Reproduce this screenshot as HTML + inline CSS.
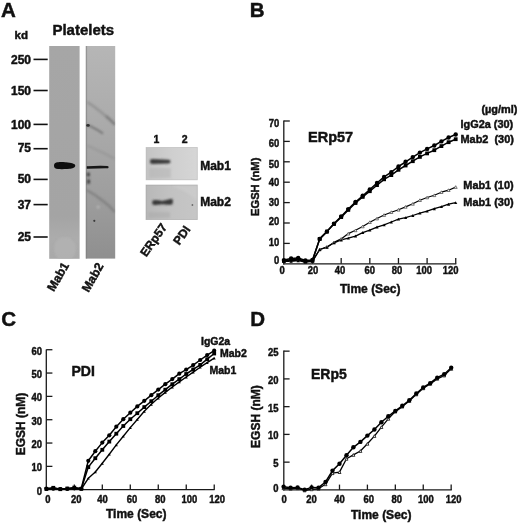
<!DOCTYPE html>
<html><head><meta charset="utf-8"><style>
html,body{margin:0;padding:0;background:#fff;}
svg{display:block;filter:blur(0.3px);}
text{font-family:"Liberation Sans",sans-serif;font-weight:bold;fill:#111;stroke:#111;stroke-width:0.45px;}
</style></head><body>
<svg width="520" height="523" viewBox="0 0 520 523">
<rect width="520" height="523" fill="#fff"/>
<text x="1.00" y="17.00" font-size="20.5" text-anchor="start" >A</text>
<text x="14.50" y="39.00" font-size="11.5" text-anchor="start" >kd</text>
<text x="52.40" y="34.60" font-size="15" text-anchor="start" >Platelets</text>

<defs>
 <linearGradient id="l1" x1="0" y1="0" x2="0" y2="1">
  <stop offset="0" stop-color="#a6a6a6"/>
  <stop offset="0.8" stop-color="#a4a4a4"/>
  <stop offset="0.9" stop-color="#acacac"/>
  <stop offset="1" stop-color="#a9a9a9"/>
 </linearGradient>
 <linearGradient id="l2" x1="0" y1="0" x2="0" y2="1">
  <stop offset="0" stop-color="#b6b6b6"/>
  <stop offset="0.3" stop-color="#adadad"/>
  <stop offset="0.7" stop-color="#9e9e9e"/>
  <stop offset="1" stop-color="#8f8f8f"/>
 </linearGradient>
 <linearGradient id="b1" x1="0" y1="0" x2="1" y2="0">
  <stop offset="0" stop-color="#c4c4c4"/>
  <stop offset="0.5" stop-color="#cfcfcf"/>
  <stop offset="1" stop-color="#d6d6d6"/>
 </linearGradient>
 <linearGradient id="b2" x1="0" y1="0" x2="1" y2="0">
  <stop offset="0" stop-color="#b8b8b8"/>
  <stop offset="0.5" stop-color="#c2c2c2"/>
  <stop offset="1" stop-color="#c6c6c6"/>
 </linearGradient>
 <clipPath id="cl1"><rect x="49.2" y="46" width="30.4" height="212.8"/></clipPath>
 <clipPath id="cl2"><rect x="85.8" y="46" width="29.4" height="212.6"/></clipPath>
 <filter id="blur1" x="-100%" y="-100%" width="300%" height="300%"><feGaussianBlur stdDeviation="0.8"/></filter>
 <filter id="blur0" x="-100%" y="-100%" width="300%" height="300%"><feGaussianBlur stdDeviation="0.5"/></filter>
 <filter id="blurh" x="-100%" y="-100%" width="300%" height="300%"><feGaussianBlur stdDeviation="0.8"/></filter>
 <filter id="blur2" x="-100%" y="-100%" width="300%" height="300%"><feGaussianBlur stdDeviation="1.2"/></filter>
</defs>

<rect x="49.2" y="46" width="30.4" height="212.8" fill="url(#l1)"/>
<g clip-path="url(#cl1)"><ellipse cx="65" cy="249" rx="11" ry="12" fill="#b4b4b4" opacity="0.7" filter="url(#blur2)"/></g>
<rect x="85.8" y="46" width="29.4" height="212.6" fill="url(#l2)"/>
<rect x="85.8" y="46" width="1.3" height="212.6" fill="#7a7a7a" opacity="0.55"/>
<g clip-path="url(#cl2)">
<path d="M87.2 102 Q100 110 114.8 124.5" stroke="#8a8a8a" stroke-width="2.2" fill="none" opacity="0.75" filter="url(#blur1)"/>
<path d="M106 116 Q111 120 114.8 124.5" stroke="#6a6a6a" stroke-width="1.6" fill="none" opacity="0.8" filter="url(#blur1)"/>
<path d="M86.5 125.3 Q90 125.5 92 127 Q98 130 103 133.5" stroke="#606060" stroke-width="1.6" fill="none" opacity="0.8" filter="url(#blur1)"/>
<ellipse cx="88" cy="125.4" rx="1.8" ry="1.3" fill="#303030"/>
<path d="M87.2 145.5 Q100 151 114.8 158.8" stroke="#8e8e8e" stroke-width="1.6" fill="none" opacity="0.6" filter="url(#blur1)"/>
<path d="M86.5 190 Q96 195 103 201 Q110 206 114.8 212" stroke="#7c7c7c" stroke-width="2.4" fill="none" opacity="0.8" filter="url(#blur1)"/>
<circle cx="98.2" cy="207" r="1.6" fill="#c0c0c0" opacity="0.7" filter="url(#blur1)"/>
<circle cx="94.3" cy="220.8" r="1.1" fill="#3a3a3a"/>
<ellipse cx="88.4" cy="174.5" rx="1.6" ry="2.2" fill="#404040" filter="url(#blur1)"/>
<ellipse cx="88.6" cy="181.5" rx="1.5" ry="2.6" fill="#3a3a3a" filter="url(#blur1)"/>
</g>
<path d="M54.0 165.6 C54.0 162.6 57 162.1 61 162.1 C67 162.2 73 162.9 74.8 164.6 C75.8 165.7 75.3 167.6 72.5 168.3 C68 169.3 61 169.3 58 169.1 C55 168.9 54.0 167.8 54.0 165.6 Z" fill="#0a0a0a" filter="url(#blur0)"/>
<path d="M86.8 166.3 Q98 165.6 107.5 166.0 Q108.8 166.5 108.6 167.4 Q108.2 168.4 107 168.3 Q98 168.5 86.8 168.8 Z" fill="#151515" filter="url(#blur0)"/>
<line x1="33.50" y1="59.40" x2="47.70" y2="59.40" stroke="#111" stroke-width="1.6"/>
<text x="31.00" y="63.50" font-size="12" text-anchor="end" >250</text>
<line x1="33.50" y1="90.50" x2="47.70" y2="90.50" stroke="#111" stroke-width="1.6"/>
<text x="31.00" y="95.40" font-size="12" text-anchor="end" >150</text>
<line x1="33.50" y1="124.40" x2="47.70" y2="124.40" stroke="#111" stroke-width="1.6"/>
<text x="31.00" y="128.70" font-size="12" text-anchor="end" >100</text>
<line x1="33.50" y1="148.70" x2="47.70" y2="148.70" stroke="#111" stroke-width="1.6"/>
<text x="31.00" y="151.70" font-size="12" text-anchor="end" >75</text>
<line x1="33.50" y1="179.40" x2="47.70" y2="179.40" stroke="#111" stroke-width="1.6"/>
<text x="31.00" y="183.30" font-size="12" text-anchor="end" >50</text>
<line x1="33.50" y1="204.60" x2="47.70" y2="204.60" stroke="#111" stroke-width="1.6"/>
<text x="31.00" y="208.60" font-size="12" text-anchor="end" >37</text>
<line x1="33.50" y1="237.00" x2="47.70" y2="237.00" stroke="#111" stroke-width="1.6"/>
<text x="31.00" y="241.00" font-size="12" text-anchor="end" >25</text>
<text x="0" y="0" font-size="12.2" text-anchor="end" transform="translate(69.40 265.30) rotate(-60)">Mab1</text>
<text x="0" y="0" font-size="12.2" text-anchor="end" transform="translate(104.00 266.00) rotate(-60)">Mab2</text>
<text x="153.60" y="143.20" font-size="10.5" text-anchor="start" >1</text>
<text x="181.80" y="143.20" font-size="10.5" text-anchor="start" >2</text>
<rect x="146.1" y="147.5" width="51.2" height="32.3" fill="url(#b1)"/>
<rect x="146.1" y="147.5" width="51.2" height="32.3" fill="none" stroke="#aaa" stroke-width="0.8" opacity="0.6"/>
<rect x="149" y="168" width="22" height="10" fill="#b0b0b0" opacity="0.45" filter="url(#blur2)"/>
<rect x="146.0" y="185" width="51.3" height="34.6" fill="url(#b2)"/>
<rect x="146.0" y="185" width="51.3" height="34.6" fill="none" stroke="#9a9a9a" stroke-width="0.8" opacity="0.6"/>
<path d="M172 186 Q185 190 197 200 L197 186 Z" fill="#d0d0d0" opacity="0.5" filter="url(#blur2)"/>
<rect x="148" y="212" width="22" height="6" fill="#a8a8a8" opacity="0.45" filter="url(#blur2)"/>
<circle cx="192.4" cy="205" r="0.9" fill="#555" opacity="0.8"/>
<path d="M149.9 161.5 Q149.9 158.9 152.2 159.0 L168.5 159.7 Q170.5 159.9 170.5 161.6 Q170.5 163.5 168.5 163.5 L152.2 163.9 Q149.9 164.0 149.9 161.5 Z" fill="#3a3a3a" filter="url(#blurh)"/>
<path d="M152.2 202.4 Q152.2 199.9 155 200.0 Q159 200.3 162 200.9 Q165 200.2 169.5 199.2 Q171.5 197.9 172.7 199.6 Q173.4 202.3 172.2 204.4 Q168 205.0 162 204.3 Q158 205.0 155 205.0 Q152.2 205.0 152.2 202.4 Z" fill="#383838" filter="url(#blurh)"/>
<text x="200.20" y="169.90" font-size="12" text-anchor="start" >Mab1</text>
<text x="200.20" y="205.60" font-size="12" text-anchor="start" >Mab2</text>
<text x="0" y="0" font-size="12" text-anchor="end" transform="translate(167.60 227.00) rotate(-55)">ERp57</text>
<text x="0" y="0" font-size="12" text-anchor="end" transform="translate(190.80 229.40) rotate(-55)">PDI</text>
<text x="249.80" y="16.60" font-size="20.5" text-anchor="start" >B</text>
<line x1="283.80" y1="120.40" x2="283.80" y2="264.40" stroke="#1a1a1a" stroke-width="1.3"/>
<line x1="283.20" y1="263.80" x2="456.30" y2="263.80" stroke="#1a1a1a" stroke-width="1.3"/>
<line x1="283.80" y1="243.40" x2="289.80" y2="243.40" stroke="#1a1a1a" stroke-width="1.3"/>
<line x1="283.80" y1="223.00" x2="289.80" y2="223.00" stroke="#1a1a1a" stroke-width="1.3"/>
<line x1="283.80" y1="202.60" x2="289.80" y2="202.60" stroke="#1a1a1a" stroke-width="1.3"/>
<line x1="283.80" y1="182.20" x2="289.80" y2="182.20" stroke="#1a1a1a" stroke-width="1.3"/>
<line x1="283.80" y1="161.80" x2="289.80" y2="161.80" stroke="#1a1a1a" stroke-width="1.3"/>
<line x1="283.80" y1="141.40" x2="289.80" y2="141.40" stroke="#1a1a1a" stroke-width="1.3"/>
<line x1="283.80" y1="121.00" x2="289.80" y2="121.00" stroke="#1a1a1a" stroke-width="1.3"/>
<text x="0" y="0" font-size="10.5" text-anchor="end" transform="translate(279.30 126.52) scale(0.9 1)" >70</text>
<text x="0" y="0" font-size="10.5" text-anchor="end" transform="translate(279.30 147.22) scale(0.9 1)" >60</text>
<text x="0" y="0" font-size="10.5" text-anchor="end" transform="translate(279.30 168.32) scale(0.9 1)" >50</text>
<text x="0" y="0" font-size="10.5" text-anchor="end" transform="translate(279.30 186.22) scale(0.9 1)" >40</text>
<text x="0" y="0" font-size="10.5" text-anchor="end" transform="translate(279.30 205.62) scale(0.9 1)" >30</text>
<text x="0" y="0" font-size="10.5" text-anchor="end" transform="translate(279.30 224.92) scale(0.9 1)" >20</text>
<text x="0" y="0" font-size="10.5" text-anchor="end" transform="translate(279.30 246.22) scale(0.9 1)" >10</text>
<text x="0" y="0" font-size="10.5" text-anchor="end" transform="translate(279.30 263.92) scale(0.9 1)" >0</text>
<line x1="312.54" y1="258.00" x2="312.54" y2="263.80" stroke="#1a1a1a" stroke-width="1.3"/>
<line x1="341.18" y1="258.00" x2="341.18" y2="263.80" stroke="#1a1a1a" stroke-width="1.3"/>
<line x1="369.82" y1="258.00" x2="369.82" y2="263.80" stroke="#1a1a1a" stroke-width="1.3"/>
<line x1="398.46" y1="258.00" x2="398.46" y2="263.80" stroke="#1a1a1a" stroke-width="1.3"/>
<line x1="427.10" y1="258.00" x2="427.10" y2="263.80" stroke="#1a1a1a" stroke-width="1.3"/>
<line x1="455.74" y1="258.00" x2="455.74" y2="263.80" stroke="#1a1a1a" stroke-width="1.3"/>
<text x="0" y="0" font-size="10.5" text-anchor="middle" transform="translate(282.10 273.60) scale(0.9 1)" >0</text>
<text x="0" y="0" font-size="10.5" text-anchor="middle" transform="translate(312.90 273.60) scale(0.9 1)" >20</text>
<text x="0" y="0" font-size="10.5" text-anchor="middle" transform="translate(340.00 273.60) scale(0.9 1)" >40</text>
<text x="0" y="0" font-size="10.5" text-anchor="middle" transform="translate(369.80 273.60) scale(0.9 1)" >60</text>
<text x="0" y="0" font-size="10.5" text-anchor="middle" transform="translate(396.90 273.60) scale(0.9 1)" >80</text>
<text x="0" y="0" font-size="10.5" text-anchor="middle" transform="translate(424.20 273.60) scale(0.9 1)" >100</text>
<text x="0" y="0" font-size="10.5" text-anchor="middle" transform="translate(450.50 273.60) scale(0.9 1)" >120</text>
<text x="340.00" y="292.70" font-size="12" text-anchor="start" >Time (Sec)</text>
<text x="0" y="0" font-size="11.2" text-anchor="middle" transform="translate(259.20 186.80) rotate(-90)">EGSH (nM)</text>
<text x="308.00" y="141.70" font-size="14.5" text-anchor="start" >ERp57</text>
<text x="0" y="0" font-size="10.5" text-anchor="start" transform="translate(481.40 113.00) scale(1.04 1)" >(µg/ml)</text>
<text x="0" y="0" font-size="10.5" text-anchor="start" transform="translate(460.50 128.10) scale(1.04 1)" xml:space="preserve">IgG2a (30)</text>
<text x="0" y="0" font-size="10.5" text-anchor="start" transform="translate(460.50 143.00) scale(1.04 1)" xml:space="preserve">Mab2  (30)</text>
<text x="0" y="0" font-size="10.5" text-anchor="start" transform="translate(463.30 188.80) scale(1.04 1)" >Mab1 (10)</text>
<text x="0" y="0" font-size="10.5" text-anchor="start" transform="translate(463.30 205.80) scale(1.04 1)" >Mab1 (30)</text>
<polyline points="283.9,260.7 291.1,260.5 298.2,260.1 305.4,260.7 312.5,260.9 319.7,249.5 326.9,246.9 334.0,242.4 341.2,238.9 348.3,233.6 355.5,230.3 362.7,226.5 369.8,222.2 377.0,218.5 384.1,215.0 391.3,212.2 398.5,209.7 405.6,206.9 412.8,203.8 419.9,200.2 427.1,197.5 434.3,195.3 441.4,192.2 448.6,190.2 455.7,187.1" fill="none" stroke="#000" stroke-width="1.2" stroke-linejoin="round"/>
<polyline points="283.9,261.4 291.1,261.4 298.2,260.7 305.4,262.0 312.5,261.4 319.7,249.5 326.9,247.3 334.0,242.8 341.2,239.9 348.3,238.1 355.5,236.1 362.7,232.6 369.8,230.1 377.0,227.1 384.1,224.8 391.3,222.0 398.5,219.1 405.6,217.7 412.8,215.5 419.9,213.2 427.1,211.2 434.3,208.7 441.4,206.7 448.6,204.2 455.7,202.6" fill="none" stroke="#000" stroke-width="1.3" stroke-linejoin="round"/>
<path d="M282.4 262.1 L285.4 262.1 L283.9 259.4 Z" fill="#fff" stroke="#555" stroke-width="0.8"/>
<path d="M289.6 261.9 L292.6 261.9 L291.1 259.2 Z" fill="#fff" stroke="#555" stroke-width="0.8"/>
<path d="M296.7 261.5 L299.7 261.5 L298.2 258.8 Z" fill="#fff" stroke="#555" stroke-width="0.8"/>
<path d="M303.9 262.1 L306.9 262.1 L305.4 259.4 Z" fill="#fff" stroke="#555" stroke-width="0.8"/>
<path d="M311.0 262.3 L314.0 262.3 L312.5 259.6 Z" fill="#fff" stroke="#555" stroke-width="0.8"/>
<path d="M318.2 250.9 L321.2 250.9 L319.7 248.2 Z" fill="#fff" stroke="#555" stroke-width="0.8"/>
<path d="M325.4 248.2 L328.4 248.2 L326.9 245.5 Z" fill="#fff" stroke="#555" stroke-width="0.8"/>
<path d="M332.5 243.7 L335.5 243.7 L334.0 241.0 Z" fill="#fff" stroke="#555" stroke-width="0.8"/>
<path d="M339.7 240.3 L342.7 240.3 L341.2 237.6 Z" fill="#fff" stroke="#555" stroke-width="0.8"/>
<path d="M346.8 235.0 L349.8 235.0 L348.3 232.3 Z" fill="#fff" stroke="#555" stroke-width="0.8"/>
<path d="M354.0 231.7 L357.0 231.7 L355.5 229.0 Z" fill="#fff" stroke="#555" stroke-width="0.8"/>
<path d="M361.2 227.8 L364.2 227.8 L362.7 225.1 Z" fill="#fff" stroke="#555" stroke-width="0.8"/>
<path d="M368.3 223.5 L371.3 223.5 L369.8 220.8 Z" fill="#fff" stroke="#555" stroke-width="0.8"/>
<path d="M375.5 219.9 L378.5 219.9 L377.0 217.2 Z" fill="#fff" stroke="#555" stroke-width="0.8"/>
<path d="M382.6 216.4 L385.6 216.4 L384.1 213.7 Z" fill="#fff" stroke="#555" stroke-width="0.8"/>
<path d="M389.8 213.5 L392.8 213.5 L391.3 210.8 Z" fill="#fff" stroke="#555" stroke-width="0.8"/>
<path d="M397.0 211.1 L400.0 211.1 L398.5 208.4 Z" fill="#fff" stroke="#555" stroke-width="0.8"/>
<path d="M404.1 208.2 L407.1 208.2 L405.6 205.5 Z" fill="#fff" stroke="#555" stroke-width="0.8"/>
<path d="M411.3 205.2 L414.3 205.2 L412.8 202.5 Z" fill="#fff" stroke="#555" stroke-width="0.8"/>
<path d="M418.4 201.5 L421.4 201.5 L419.9 198.8 Z" fill="#fff" stroke="#555" stroke-width="0.8"/>
<path d="M425.6 198.8 L428.6 198.8 L427.1 196.2 Z" fill="#fff" stroke="#555" stroke-width="0.8"/>
<path d="M432.8 196.6 L435.8 196.6 L434.3 193.9 Z" fill="#fff" stroke="#555" stroke-width="0.8"/>
<path d="M439.9 193.5 L442.9 193.5 L441.4 190.8 Z" fill="#fff" stroke="#555" stroke-width="0.8"/>
<path d="M447.1 191.5 L450.1 191.5 L448.6 188.8 Z" fill="#fff" stroke="#555" stroke-width="0.8"/>
<path d="M454.2 188.4 L457.2 188.4 L455.7 185.7 Z" fill="#fff" stroke="#555" stroke-width="0.8"/>
<path d="M282.3 262.8 L285.5 262.8 L283.9 259.9 Z" fill="#000" stroke="none" stroke-width="0"/>
<path d="M289.5 262.8 L292.7 262.8 L291.1 259.9 Z" fill="#000" stroke="none" stroke-width="0"/>
<path d="M296.6 262.2 L299.8 262.2 L298.2 259.3 Z" fill="#000" stroke="none" stroke-width="0"/>
<path d="M303.8 263.4 L307.0 263.4 L305.4 260.5 Z" fill="#000" stroke="none" stroke-width="0"/>
<path d="M310.9 262.8 L314.1 262.8 L312.5 259.9 Z" fill="#000" stroke="none" stroke-width="0"/>
<path d="M318.1 251.0 L321.3 251.0 L319.7 248.1 Z" fill="#000" stroke="none" stroke-width="0"/>
<path d="M325.3 248.7 L328.5 248.7 L326.9 245.8 Z" fill="#000" stroke="none" stroke-width="0"/>
<path d="M332.4 244.2 L335.6 244.2 L334.0 241.3 Z" fill="#000" stroke="none" stroke-width="0"/>
<path d="M339.6 241.4 L342.8 241.4 L341.2 238.5 Z" fill="#000" stroke="none" stroke-width="0"/>
<path d="M346.7 239.5 L349.9 239.5 L348.3 236.7 Z" fill="#000" stroke="none" stroke-width="0"/>
<path d="M353.9 237.5 L357.1 237.5 L355.5 234.6 Z" fill="#000" stroke="none" stroke-width="0"/>
<path d="M361.1 234.0 L364.3 234.0 L362.7 231.1 Z" fill="#000" stroke="none" stroke-width="0"/>
<path d="M368.2 231.6 L371.4 231.6 L369.8 228.7 Z" fill="#000" stroke="none" stroke-width="0"/>
<path d="M375.4 228.5 L378.6 228.5 L377.0 225.6 Z" fill="#000" stroke="none" stroke-width="0"/>
<path d="M382.5 226.3 L385.7 226.3 L384.1 223.4 Z" fill="#000" stroke="none" stroke-width="0"/>
<path d="M389.7 223.4 L392.9 223.4 L391.3 220.5 Z" fill="#000" stroke="none" stroke-width="0"/>
<path d="M396.9 220.6 L400.1 220.6 L398.5 217.7 Z" fill="#000" stroke="none" stroke-width="0"/>
<path d="M404.0 219.1 L407.2 219.1 L405.6 216.3 Z" fill="#000" stroke="none" stroke-width="0"/>
<path d="M411.2 216.9 L414.4 216.9 L412.8 214.0 Z" fill="#000" stroke="none" stroke-width="0"/>
<path d="M418.3 214.6 L421.5 214.6 L419.9 211.8 Z" fill="#000" stroke="none" stroke-width="0"/>
<path d="M425.5 212.6 L428.7 212.6 L427.1 209.7 Z" fill="#000" stroke="none" stroke-width="0"/>
<path d="M432.7 210.2 L435.9 210.2 L434.3 207.3 Z" fill="#000" stroke="none" stroke-width="0"/>
<path d="M439.8 208.1 L443.0 208.1 L441.4 205.2 Z" fill="#000" stroke="none" stroke-width="0"/>
<path d="M447.0 205.7 L450.2 205.7 L448.6 202.8 Z" fill="#000" stroke="none" stroke-width="0"/>
<path d="M454.1 204.0 L457.3 204.0 L455.7 201.2 Z" fill="#000" stroke="none" stroke-width="0"/>
<polyline points="283.9,260.9 291.1,259.7 298.2,258.9 305.4,261.4 312.5,260.5 319.7,238.9 326.9,231.6 334.0,224.0 341.2,217.1 348.3,209.9 355.5,203.0 362.7,196.9 369.8,191.2 377.0,185.1 384.1,179.3 391.3,175.1 398.5,169.8 405.6,165.5 412.8,161.2 419.9,156.9 427.1,153.4 434.3,150.2 441.4,146.1 448.6,142.2 455.7,139.2" fill="none" stroke="#000" stroke-width="1.5" stroke-linejoin="round"/>
<polyline points="283.9,260.1 291.1,258.5 298.2,257.9 305.4,260.5 312.5,259.9 319.7,238.9 326.9,231.6 334.0,223.6 341.2,216.5 348.3,209.1 355.5,202.0 362.7,195.7 369.8,189.5 377.0,183.0 384.1,176.9 391.3,172.2 398.5,166.5 405.6,161.8 412.8,157.1 419.9,152.6 427.1,148.9 434.3,145.5 441.4,141.4 448.6,137.5 455.7,134.5" fill="none" stroke="#000" stroke-width="1.5" stroke-linejoin="round"/>
<rect x="282.0" y="259.0" width="3.8" height="3.8" fill="#000"/>
<rect x="289.2" y="257.8" width="3.8" height="3.8" fill="#000"/>
<rect x="296.3" y="257.0" width="3.8" height="3.8" fill="#000"/>
<rect x="303.5" y="259.5" width="3.8" height="3.8" fill="#000"/>
<rect x="310.6" y="258.6" width="3.8" height="3.8" fill="#000"/>
<rect x="317.8" y="237.0" width="3.8" height="3.8" fill="#000"/>
<rect x="325.0" y="229.7" width="3.8" height="3.8" fill="#000"/>
<rect x="332.1" y="222.1" width="3.8" height="3.8" fill="#000"/>
<rect x="339.3" y="215.2" width="3.8" height="3.8" fill="#000"/>
<rect x="346.4" y="208.0" width="3.8" height="3.8" fill="#000"/>
<rect x="353.6" y="201.1" width="3.8" height="3.8" fill="#000"/>
<rect x="360.8" y="195.0" width="3.8" height="3.8" fill="#000"/>
<rect x="367.9" y="189.3" width="3.8" height="3.8" fill="#000"/>
<rect x="375.1" y="183.2" width="3.8" height="3.8" fill="#000"/>
<rect x="382.2" y="177.4" width="3.8" height="3.8" fill="#000"/>
<rect x="389.4" y="173.2" width="3.8" height="3.8" fill="#000"/>
<rect x="396.6" y="167.9" width="3.8" height="3.8" fill="#000"/>
<rect x="403.7" y="163.6" width="3.8" height="3.8" fill="#000"/>
<rect x="410.9" y="159.3" width="3.8" height="3.8" fill="#000"/>
<rect x="418.0" y="155.0" width="3.8" height="3.8" fill="#000"/>
<rect x="425.2" y="151.5" width="3.8" height="3.8" fill="#000"/>
<rect x="432.4" y="148.3" width="3.8" height="3.8" fill="#000"/>
<rect x="439.5" y="144.2" width="3.8" height="3.8" fill="#000"/>
<rect x="446.7" y="140.3" width="3.8" height="3.8" fill="#000"/>
<rect x="453.8" y="137.3" width="3.8" height="3.8" fill="#000"/>
<circle cx="283.9" cy="260.1" r="2.2" fill="#000" stroke="none" stroke-width="0"/>
<circle cx="291.1" cy="258.5" r="2.2" fill="#000" stroke="none" stroke-width="0"/>
<circle cx="298.2" cy="257.9" r="2.2" fill="#000" stroke="none" stroke-width="0"/>
<circle cx="305.4" cy="260.5" r="2.2" fill="#000" stroke="none" stroke-width="0"/>
<circle cx="312.5" cy="259.9" r="2.2" fill="#000" stroke="none" stroke-width="0"/>
<circle cx="319.7" cy="238.9" r="2.2" fill="#000" stroke="none" stroke-width="0"/>
<circle cx="326.9" cy="231.6" r="2.2" fill="#000" stroke="none" stroke-width="0"/>
<circle cx="334.0" cy="223.6" r="2.2" fill="#000" stroke="none" stroke-width="0"/>
<circle cx="341.2" cy="216.5" r="2.2" fill="#000" stroke="none" stroke-width="0"/>
<circle cx="348.3" cy="209.1" r="2.2" fill="#000" stroke="none" stroke-width="0"/>
<circle cx="355.5" cy="202.0" r="2.2" fill="#000" stroke="none" stroke-width="0"/>
<circle cx="362.7" cy="195.7" r="2.2" fill="#000" stroke="none" stroke-width="0"/>
<circle cx="369.8" cy="189.5" r="2.2" fill="#000" stroke="none" stroke-width="0"/>
<circle cx="377.0" cy="183.0" r="2.2" fill="#000" stroke="none" stroke-width="0"/>
<circle cx="384.1" cy="176.9" r="2.2" fill="#000" stroke="none" stroke-width="0"/>
<circle cx="391.3" cy="172.2" r="2.2" fill="#000" stroke="none" stroke-width="0"/>
<circle cx="398.5" cy="166.5" r="2.2" fill="#000" stroke="none" stroke-width="0"/>
<circle cx="405.6" cy="161.8" r="2.2" fill="#000" stroke="none" stroke-width="0"/>
<circle cx="412.8" cy="157.1" r="2.2" fill="#000" stroke="none" stroke-width="0"/>
<circle cx="419.9" cy="152.6" r="2.2" fill="#000" stroke="none" stroke-width="0"/>
<circle cx="427.1" cy="148.9" r="2.2" fill="#000" stroke="none" stroke-width="0"/>
<circle cx="434.3" cy="145.5" r="2.2" fill="#000" stroke="none" stroke-width="0"/>
<circle cx="441.4" cy="141.4" r="2.2" fill="#000" stroke="none" stroke-width="0"/>
<circle cx="448.6" cy="137.5" r="2.2" fill="#000" stroke="none" stroke-width="0"/>
<circle cx="455.7" cy="134.5" r="2.2" fill="#000" stroke="none" stroke-width="0"/>
<text x="1.30" y="326.20" font-size="20.5" text-anchor="start" >C</text>
<line x1="46.30" y1="349.50" x2="46.30" y2="490.30" stroke="#1a1a1a" stroke-width="1.3"/>
<line x1="45.70" y1="489.70" x2="214.60" y2="489.70" stroke="#1a1a1a" stroke-width="1.3"/>
<line x1="46.30" y1="466.37" x2="52.40" y2="466.37" stroke="#1a1a1a" stroke-width="1.3"/>
<line x1="46.30" y1="443.04" x2="52.40" y2="443.04" stroke="#1a1a1a" stroke-width="1.3"/>
<line x1="46.30" y1="419.71" x2="52.40" y2="419.71" stroke="#1a1a1a" stroke-width="1.3"/>
<line x1="46.30" y1="396.38" x2="52.40" y2="396.38" stroke="#1a1a1a" stroke-width="1.3"/>
<line x1="46.30" y1="373.05" x2="52.40" y2="373.05" stroke="#1a1a1a" stroke-width="1.3"/>
<line x1="46.30" y1="349.72" x2="52.40" y2="349.72" stroke="#1a1a1a" stroke-width="1.3"/>
<text x="0" y="0" font-size="10.5" text-anchor="end" transform="translate(42.00 494.62) scale(0.9 1)" >0</text>
<text x="0" y="0" font-size="10.5" text-anchor="end" transform="translate(42.00 471.29) scale(0.9 1)" >10</text>
<text x="0" y="0" font-size="10.5" text-anchor="end" transform="translate(42.00 447.96) scale(0.9 1)" >20</text>
<text x="0" y="0" font-size="10.5" text-anchor="end" transform="translate(42.00 424.63) scale(0.9 1)" >30</text>
<text x="0" y="0" font-size="10.5" text-anchor="end" transform="translate(42.00 401.30) scale(0.9 1)" >40</text>
<text x="0" y="0" font-size="10.5" text-anchor="end" transform="translate(42.00 377.97) scale(0.9 1)" >50</text>
<text x="0" y="0" font-size="10.5" text-anchor="end" transform="translate(42.00 354.64) scale(0.9 1)" >60</text>
<line x1="74.33" y1="484.40" x2="74.33" y2="489.70" stroke="#1a1a1a" stroke-width="1.3"/>
<line x1="102.31" y1="484.40" x2="102.31" y2="489.70" stroke="#1a1a1a" stroke-width="1.3"/>
<line x1="130.29" y1="484.40" x2="130.29" y2="489.70" stroke="#1a1a1a" stroke-width="1.3"/>
<line x1="158.27" y1="484.40" x2="158.27" y2="489.70" stroke="#1a1a1a" stroke-width="1.3"/>
<line x1="186.25" y1="484.40" x2="186.25" y2="489.70" stroke="#1a1a1a" stroke-width="1.3"/>
<line x1="214.23" y1="484.40" x2="214.23" y2="489.70" stroke="#1a1a1a" stroke-width="1.3"/>
<text x="0" y="0" font-size="10.5" text-anchor="middle" transform="translate(47.90 503.20) scale(0.9 1)" >0</text>
<text x="0" y="0" font-size="10.5" text-anchor="middle" transform="translate(76.20 503.20) scale(0.9 1)" >20</text>
<text x="0" y="0" font-size="10.5" text-anchor="middle" transform="translate(102.50 503.20) scale(0.9 1)" >40</text>
<text x="0" y="0" font-size="10.5" text-anchor="middle" transform="translate(132.00 503.20) scale(0.9 1)" >60</text>
<text x="0" y="0" font-size="10.5" text-anchor="middle" transform="translate(160.20 503.20) scale(0.9 1)" >80</text>
<text x="0" y="0" font-size="10.5" text-anchor="middle" transform="translate(189.30 503.20) scale(0.9 1)" >100</text>
<text x="0" y="0" font-size="10.5" text-anchor="middle" transform="translate(217.20 503.20) scale(0.9 1)" >120</text>
<text x="106.00" y="518.10" font-size="12" text-anchor="start" >Time (Sec)</text>
<text x="0" y="0" font-size="12" text-anchor="middle" transform="translate(24.60 424.00) rotate(-90)">EGSH (nM)</text>
<text x="71.50" y="375.60" font-size="14" text-anchor="start" >PDI</text>
<text x="201.00" y="344.60" font-size="10.5" text-anchor="start" >IgG2a</text>
<text x="219.90" y="356.90" font-size="10.5" text-anchor="start" >Mab2</text>
<text x="209.40" y="373.70" font-size="10.5" text-anchor="start" >Mab1</text>
<polyline points="46.4,489.2 53.3,489.0 60.3,488.8 67.3,489.0 74.3,488.5 81.3,489.0 88.3,478.3 95.3,472.0 102.3,463.3 109.3,454.2 116.3,444.9 123.3,436.3 130.3,427.6 137.3,419.5 144.3,411.3 151.3,404.3 158.3,398.0 165.3,392.4 172.3,387.0 179.3,381.9 186.2,377.0 193.2,372.1 200.2,367.2 207.2,362.6 214.2,358.1" fill="none" stroke="#000" stroke-width="1.4" stroke-linejoin="round"/>
<path d="M44.9 490.6 L47.9 490.6 L46.4 487.9 Z" fill="#000" stroke="none" stroke-width="0"/>
<path d="M51.8 490.4 L54.8 490.4 L53.3 487.7 Z" fill="#000" stroke="none" stroke-width="0"/>
<path d="M58.8 490.1 L61.8 490.1 L60.3 487.4 Z" fill="#000" stroke="none" stroke-width="0"/>
<path d="M65.8 490.4 L68.8 490.4 L67.3 487.7 Z" fill="#000" stroke="none" stroke-width="0"/>
<path d="M72.8 489.9 L75.8 489.9 L74.3 487.2 Z" fill="#000" stroke="none" stroke-width="0"/>
<path d="M79.8 490.4 L82.8 490.4 L81.3 487.7 Z" fill="#000" stroke="none" stroke-width="0"/>
<path d="M86.8 479.6 L89.8 479.6 L88.3 476.9 Z" fill="#000" stroke="none" stroke-width="0"/>
<path d="M93.8 473.3 L96.8 473.3 L95.3 470.6 Z" fill="#000" stroke="none" stroke-width="0"/>
<path d="M100.8 464.7 L103.8 464.7 L102.3 462.0 Z" fill="#000" stroke="none" stroke-width="0"/>
<path d="M107.8 455.6 L110.8 455.6 L109.3 452.9 Z" fill="#000" stroke="none" stroke-width="0"/>
<path d="M114.8 446.3 L117.8 446.3 L116.3 443.6 Z" fill="#000" stroke="none" stroke-width="0"/>
<path d="M121.8 437.6 L124.8 437.6 L123.3 434.9 Z" fill="#000" stroke="none" stroke-width="0"/>
<path d="M128.8 429.0 L131.8 429.0 L130.3 426.3 Z" fill="#000" stroke="none" stroke-width="0"/>
<path d="M135.8 420.8 L138.8 420.8 L137.3 418.1 Z" fill="#000" stroke="none" stroke-width="0"/>
<path d="M142.8 412.7 L145.8 412.7 L144.3 410.0 Z" fill="#000" stroke="none" stroke-width="0"/>
<path d="M149.8 405.7 L152.8 405.7 L151.3 403.0 Z" fill="#000" stroke="none" stroke-width="0"/>
<path d="M156.8 399.4 L159.8 399.4 L158.3 396.7 Z" fill="#000" stroke="none" stroke-width="0"/>
<path d="M163.8 393.8 L166.8 393.8 L165.3 391.1 Z" fill="#000" stroke="none" stroke-width="0"/>
<path d="M170.8 388.4 L173.8 388.4 L172.3 385.7 Z" fill="#000" stroke="none" stroke-width="0"/>
<path d="M177.8 383.3 L180.8 383.3 L179.3 380.6 Z" fill="#000" stroke="none" stroke-width="0"/>
<path d="M184.8 378.4 L187.8 378.4 L186.2 375.7 Z" fill="#000" stroke="none" stroke-width="0"/>
<path d="M191.7 373.5 L194.7 373.5 L193.2 370.8 Z" fill="#000" stroke="none" stroke-width="0"/>
<path d="M198.7 368.6 L201.7 368.6 L200.2 365.9 Z" fill="#000" stroke="none" stroke-width="0"/>
<path d="M205.7 363.9 L208.7 363.9 L207.2 361.2 Z" fill="#000" stroke="none" stroke-width="0"/>
<path d="M212.7 359.5 L215.7 359.5 L214.2 356.8 Z" fill="#000" stroke="none" stroke-width="0"/>
<polyline points="46.4,489.0 53.3,487.8 60.3,489.2 67.3,488.5 74.3,487.6 81.3,488.8 88.3,467.1 95.3,458.2 102.3,449.8 109.3,441.6 116.3,433.7 123.3,426.0 130.3,419.2 137.3,413.2 144.3,407.1 151.3,401.2 158.3,395.2 165.3,389.7 172.3,384.2 179.3,379.1 186.2,374.0 193.2,369.4 200.2,364.9 207.2,359.2 214.2,353.5" fill="none" stroke="#000" stroke-width="1.5" stroke-linejoin="round"/>
<rect x="44.5" y="487.1" width="3.8" height="3.8" fill="#000"/>
<rect x="51.4" y="485.9" width="3.8" height="3.8" fill="#000"/>
<rect x="58.4" y="487.3" width="3.8" height="3.8" fill="#000"/>
<rect x="65.4" y="486.6" width="3.8" height="3.8" fill="#000"/>
<rect x="72.4" y="485.7" width="3.8" height="3.8" fill="#000"/>
<rect x="79.4" y="486.9" width="3.8" height="3.8" fill="#000"/>
<rect x="86.4" y="465.2" width="3.8" height="3.8" fill="#000"/>
<rect x="93.4" y="456.3" width="3.8" height="3.8" fill="#000"/>
<rect x="100.4" y="447.9" width="3.8" height="3.8" fill="#000"/>
<rect x="107.4" y="439.7" width="3.8" height="3.8" fill="#000"/>
<rect x="114.4" y="431.8" width="3.8" height="3.8" fill="#000"/>
<rect x="121.4" y="424.1" width="3.8" height="3.8" fill="#000"/>
<rect x="128.4" y="417.3" width="3.8" height="3.8" fill="#000"/>
<rect x="135.4" y="411.3" width="3.8" height="3.8" fill="#000"/>
<rect x="142.4" y="405.2" width="3.8" height="3.8" fill="#000"/>
<rect x="149.4" y="399.3" width="3.8" height="3.8" fill="#000"/>
<rect x="156.4" y="393.3" width="3.8" height="3.8" fill="#000"/>
<rect x="163.4" y="387.8" width="3.8" height="3.8" fill="#000"/>
<rect x="170.4" y="382.3" width="3.8" height="3.8" fill="#000"/>
<rect x="177.4" y="377.2" width="3.8" height="3.8" fill="#000"/>
<rect x="184.3" y="372.1" width="3.8" height="3.8" fill="#000"/>
<rect x="191.3" y="367.5" width="3.8" height="3.8" fill="#000"/>
<rect x="198.3" y="363.0" width="3.8" height="3.8" fill="#000"/>
<rect x="205.3" y="357.3" width="3.8" height="3.8" fill="#000"/>
<rect x="212.3" y="351.6" width="3.8" height="3.8" fill="#000"/>
<polyline points="46.4,488.5 53.3,488.3 60.3,489.0 67.3,488.8 74.3,488.3 81.3,488.5 88.3,460.8 95.3,451.2 102.3,442.6 109.3,435.3 116.3,426.7 123.3,419.2 130.3,412.7 137.3,406.4 144.3,400.8 151.3,395.2 158.3,389.6 165.3,384.2 172.3,379.1 179.3,373.7 186.2,369.6 193.2,365.1 200.2,360.0 207.2,355.1 214.2,350.7" fill="none" stroke="#000" stroke-width="1.5" stroke-linejoin="round"/>
<circle cx="46.4" cy="488.5" r="2.1" fill="#000" stroke="none" stroke-width="0"/>
<circle cx="53.3" cy="488.3" r="2.1" fill="#000" stroke="none" stroke-width="0"/>
<circle cx="60.3" cy="489.0" r="2.1" fill="#000" stroke="none" stroke-width="0"/>
<circle cx="67.3" cy="488.8" r="2.1" fill="#000" stroke="none" stroke-width="0"/>
<circle cx="74.3" cy="488.3" r="2.1" fill="#000" stroke="none" stroke-width="0"/>
<circle cx="81.3" cy="488.5" r="2.1" fill="#000" stroke="none" stroke-width="0"/>
<circle cx="88.3" cy="460.8" r="2.1" fill="#000" stroke="none" stroke-width="0"/>
<circle cx="95.3" cy="451.2" r="2.1" fill="#000" stroke="none" stroke-width="0"/>
<circle cx="102.3" cy="442.6" r="2.1" fill="#000" stroke="none" stroke-width="0"/>
<circle cx="109.3" cy="435.3" r="2.1" fill="#000" stroke="none" stroke-width="0"/>
<circle cx="116.3" cy="426.7" r="2.1" fill="#000" stroke="none" stroke-width="0"/>
<circle cx="123.3" cy="419.2" r="2.1" fill="#000" stroke="none" stroke-width="0"/>
<circle cx="130.3" cy="412.7" r="2.1" fill="#000" stroke="none" stroke-width="0"/>
<circle cx="137.3" cy="406.4" r="2.1" fill="#000" stroke="none" stroke-width="0"/>
<circle cx="144.3" cy="400.8" r="2.1" fill="#000" stroke="none" stroke-width="0"/>
<circle cx="151.3" cy="395.2" r="2.1" fill="#000" stroke="none" stroke-width="0"/>
<circle cx="158.3" cy="389.6" r="2.1" fill="#000" stroke="none" stroke-width="0"/>
<circle cx="165.3" cy="384.2" r="2.1" fill="#000" stroke="none" stroke-width="0"/>
<circle cx="172.3" cy="379.1" r="2.1" fill="#000" stroke="none" stroke-width="0"/>
<circle cx="179.3" cy="373.7" r="2.1" fill="#000" stroke="none" stroke-width="0"/>
<circle cx="186.2" cy="369.6" r="2.1" fill="#000" stroke="none" stroke-width="0"/>
<circle cx="193.2" cy="365.1" r="2.1" fill="#000" stroke="none" stroke-width="0"/>
<circle cx="200.2" cy="360.0" r="2.1" fill="#000" stroke="none" stroke-width="0"/>
<circle cx="207.2" cy="355.1" r="2.1" fill="#000" stroke="none" stroke-width="0"/>
<circle cx="214.2" cy="350.7" r="2.1" fill="#000" stroke="none" stroke-width="0"/>
<text x="250.30" y="326.20" font-size="20.5" text-anchor="start" >D</text>
<line x1="283.80" y1="350.50" x2="283.80" y2="490.50" stroke="#1a1a1a" stroke-width="1.3"/>
<line x1="283.20" y1="489.90" x2="451.80" y2="489.90" stroke="#1a1a1a" stroke-width="1.3"/>
<line x1="283.80" y1="462.15" x2="289.60" y2="462.15" stroke="#1a1a1a" stroke-width="1.3"/>
<line x1="283.80" y1="434.40" x2="289.60" y2="434.40" stroke="#1a1a1a" stroke-width="1.3"/>
<line x1="283.80" y1="406.65" x2="289.60" y2="406.65" stroke="#1a1a1a" stroke-width="1.3"/>
<line x1="283.80" y1="378.90" x2="289.60" y2="378.90" stroke="#1a1a1a" stroke-width="1.3"/>
<line x1="283.80" y1="351.15" x2="289.60" y2="351.15" stroke="#1a1a1a" stroke-width="1.3"/>
<text x="0" y="0" font-size="10.5" text-anchor="end" transform="translate(278.40 492.42) scale(0.9 1)" >0</text>
<text x="0" y="0" font-size="10.5" text-anchor="end" transform="translate(278.40 467.07) scale(0.9 1)" >5</text>
<text x="0" y="0" font-size="10.5" text-anchor="end" transform="translate(278.40 439.32) scale(0.9 1)" >10</text>
<text x="0" y="0" font-size="10.5" text-anchor="end" transform="translate(278.40 411.57) scale(0.9 1)" >15</text>
<text x="0" y="0" font-size="10.5" text-anchor="end" transform="translate(278.40 383.82) scale(0.9 1)" >20</text>
<text x="0" y="0" font-size="10.5" text-anchor="end" transform="translate(278.40 356.07) scale(0.9 1)" >25</text>
<line x1="311.57" y1="484.60" x2="311.57" y2="489.90" stroke="#1a1a1a" stroke-width="1.3"/>
<line x1="339.49" y1="484.60" x2="339.49" y2="489.90" stroke="#1a1a1a" stroke-width="1.3"/>
<line x1="367.41" y1="484.60" x2="367.41" y2="489.90" stroke="#1a1a1a" stroke-width="1.3"/>
<line x1="395.33" y1="484.60" x2="395.33" y2="489.90" stroke="#1a1a1a" stroke-width="1.3"/>
<line x1="423.25" y1="484.60" x2="423.25" y2="489.90" stroke="#1a1a1a" stroke-width="1.3"/>
<line x1="451.17" y1="484.60" x2="451.17" y2="489.90" stroke="#1a1a1a" stroke-width="1.3"/>
<text x="0" y="0" font-size="10.5" text-anchor="middle" transform="translate(284.10 503.30) scale(0.9 1)" >0</text>
<text x="0" y="0" font-size="10.5" text-anchor="middle" transform="translate(311.60 503.30) scale(0.9 1)" >20</text>
<text x="0" y="0" font-size="10.5" text-anchor="middle" transform="translate(339.40 503.30) scale(0.9 1)" >40</text>
<text x="0" y="0" font-size="10.5" text-anchor="middle" transform="translate(368.80 503.30) scale(0.9 1)" >60</text>
<text x="0" y="0" font-size="10.5" text-anchor="middle" transform="translate(396.70 503.30) scale(0.9 1)" >80</text>
<text x="0" y="0" font-size="10.5" text-anchor="middle" transform="translate(425.80 503.30) scale(0.9 1)" >100</text>
<text x="0" y="0" font-size="10.5" text-anchor="middle" transform="translate(453.50 503.30) scale(0.9 1)" >120</text>
<text x="351.00" y="518.70" font-size="12" text-anchor="start" >Time (Sec)</text>
<text x="0" y="0" font-size="12" text-anchor="middle" transform="translate(260.40 416.60) rotate(-90)">EGSH (nM)</text>
<text x="311.00" y="378.50" font-size="14" text-anchor="start" >ERp5</text>
<polyline points="283.6,488.2 290.6,488.8 297.6,488.2 304.6,490.5 311.6,489.3 318.5,488.8 325.5,484.3 332.5,473.2 339.5,472.1 346.5,458.8 353.4,454.9 360.4,451.0 367.4,443.8 374.4,436.1 381.4,427.2 388.3,418.9 395.3,411.6 402.3,406.6 409.3,401.1 416.3,394.4 423.2,388.3 430.2,383.9 437.2,378.9 444.2,375.6 451.2,368.9" fill="none" stroke="#000" stroke-width="1.3" stroke-linejoin="round"/>
<path d="M282.1 489.6 L285.1 489.6 L283.6 486.9 Z" fill="#fff" stroke="#222" stroke-width="0.9"/>
<path d="M289.1 490.1 L292.1 490.1 L290.6 487.4 Z" fill="#fff" stroke="#222" stroke-width="0.9"/>
<path d="M296.1 489.6 L299.1 489.6 L297.6 486.9 Z" fill="#fff" stroke="#222" stroke-width="0.9"/>
<path d="M303.1 491.8 L306.1 491.8 L304.6 489.1 Z" fill="#fff" stroke="#222" stroke-width="0.9"/>
<path d="M310.1 490.7 L313.1 490.7 L311.6 488.0 Z" fill="#fff" stroke="#222" stroke-width="0.9"/>
<path d="M317.0 490.1 L320.0 490.1 L318.5 487.4 Z" fill="#fff" stroke="#222" stroke-width="0.9"/>
<path d="M324.0 485.7 L327.0 485.7 L325.5 483.0 Z" fill="#fff" stroke="#222" stroke-width="0.9"/>
<path d="M331.0 474.6 L334.0 474.6 L332.5 471.9 Z" fill="#fff" stroke="#222" stroke-width="0.9"/>
<path d="M338.0 473.5 L341.0 473.5 L339.5 470.8 Z" fill="#fff" stroke="#222" stroke-width="0.9"/>
<path d="M345.0 460.2 L348.0 460.2 L346.5 457.5 Z" fill="#fff" stroke="#222" stroke-width="0.9"/>
<path d="M351.9 456.3 L354.9 456.3 L353.4 453.6 Z" fill="#fff" stroke="#222" stroke-width="0.9"/>
<path d="M358.9 452.4 L361.9 452.4 L360.4 449.7 Z" fill="#fff" stroke="#222" stroke-width="0.9"/>
<path d="M365.9 445.2 L368.9 445.2 L367.4 442.5 Z" fill="#fff" stroke="#222" stroke-width="0.9"/>
<path d="M372.9 437.4 L375.9 437.4 L374.4 434.7 Z" fill="#fff" stroke="#222" stroke-width="0.9"/>
<path d="M379.9 428.5 L382.9 428.5 L381.4 425.8 Z" fill="#fff" stroke="#222" stroke-width="0.9"/>
<path d="M386.8 420.2 L389.8 420.2 L388.3 417.5 Z" fill="#fff" stroke="#222" stroke-width="0.9"/>
<path d="M393.8 413.0 L396.8 413.0 L395.3 410.3 Z" fill="#fff" stroke="#222" stroke-width="0.9"/>
<path d="M400.8 408.0 L403.8 408.0 L402.3 405.3 Z" fill="#fff" stroke="#222" stroke-width="0.9"/>
<path d="M407.8 402.4 L410.8 402.4 L409.3 399.7 Z" fill="#fff" stroke="#222" stroke-width="0.9"/>
<path d="M414.8 395.8 L417.8 395.8 L416.3 393.1 Z" fill="#fff" stroke="#222" stroke-width="0.9"/>
<path d="M421.8 389.7 L424.8 389.7 L423.2 387.0 Z" fill="#fff" stroke="#222" stroke-width="0.9"/>
<path d="M428.7 385.2 L431.7 385.2 L430.2 382.5 Z" fill="#fff" stroke="#222" stroke-width="0.9"/>
<path d="M435.7 380.2 L438.7 380.2 L437.2 377.5 Z" fill="#fff" stroke="#222" stroke-width="0.9"/>
<path d="M442.7 376.9 L445.7 376.9 L444.2 374.2 Z" fill="#fff" stroke="#222" stroke-width="0.9"/>
<path d="M449.7 370.3 L452.7 370.3 L451.2 367.6 Z" fill="#fff" stroke="#222" stroke-width="0.9"/>
<polyline points="283.6,486.8 290.6,487.7 297.6,487.4 304.6,489.6 311.6,487.4 318.5,487.7 325.5,482.0 332.5,470.6 339.5,463.8 346.5,455.2 353.4,447.3 360.4,441.9 367.4,435.6 374.4,429.5 381.4,422.3 388.3,416.3 395.3,410.9 402.3,405.8 409.3,400.3 416.3,393.5 423.2,387.5 430.2,383.2 437.2,377.7 444.2,374.2 451.2,367.8" fill="none" stroke="#000" stroke-width="1.5" stroke-linejoin="round"/>
<circle cx="283.6" cy="486.8" r="2.2" fill="#000" stroke="none" stroke-width="0"/>
<circle cx="290.6" cy="487.7" r="2.2" fill="#000" stroke="none" stroke-width="0"/>
<circle cx="297.6" cy="487.4" r="2.2" fill="#000" stroke="none" stroke-width="0"/>
<circle cx="304.6" cy="489.6" r="2.2" fill="#000" stroke="none" stroke-width="0"/>
<circle cx="311.6" cy="487.4" r="2.2" fill="#000" stroke="none" stroke-width="0"/>
<circle cx="318.5" cy="487.7" r="2.2" fill="#000" stroke="none" stroke-width="0"/>
<circle cx="325.5" cy="482.0" r="2.2" fill="#000" stroke="none" stroke-width="0"/>
<circle cx="332.5" cy="470.6" r="2.2" fill="#000" stroke="none" stroke-width="0"/>
<circle cx="339.5" cy="463.8" r="2.2" fill="#000" stroke="none" stroke-width="0"/>
<circle cx="346.5" cy="455.2" r="2.2" fill="#000" stroke="none" stroke-width="0"/>
<circle cx="353.4" cy="447.3" r="2.2" fill="#000" stroke="none" stroke-width="0"/>
<circle cx="360.4" cy="441.9" r="2.2" fill="#000" stroke="none" stroke-width="0"/>
<circle cx="367.4" cy="435.6" r="2.2" fill="#000" stroke="none" stroke-width="0"/>
<circle cx="374.4" cy="429.5" r="2.2" fill="#000" stroke="none" stroke-width="0"/>
<circle cx="381.4" cy="422.3" r="2.2" fill="#000" stroke="none" stroke-width="0"/>
<circle cx="388.3" cy="416.3" r="2.2" fill="#000" stroke="none" stroke-width="0"/>
<circle cx="395.3" cy="410.9" r="2.2" fill="#000" stroke="none" stroke-width="0"/>
<circle cx="402.3" cy="405.8" r="2.2" fill="#000" stroke="none" stroke-width="0"/>
<circle cx="409.3" cy="400.3" r="2.2" fill="#000" stroke="none" stroke-width="0"/>
<circle cx="416.3" cy="393.5" r="2.2" fill="#000" stroke="none" stroke-width="0"/>
<circle cx="423.2" cy="387.5" r="2.2" fill="#000" stroke="none" stroke-width="0"/>
<circle cx="430.2" cy="383.2" r="2.2" fill="#000" stroke="none" stroke-width="0"/>
<circle cx="437.2" cy="377.7" r="2.2" fill="#000" stroke="none" stroke-width="0"/>
<circle cx="444.2" cy="374.2" r="2.2" fill="#000" stroke="none" stroke-width="0"/>
<circle cx="451.2" cy="367.8" r="2.2" fill="#000" stroke="none" stroke-width="0"/>
</svg>
</body></html>
